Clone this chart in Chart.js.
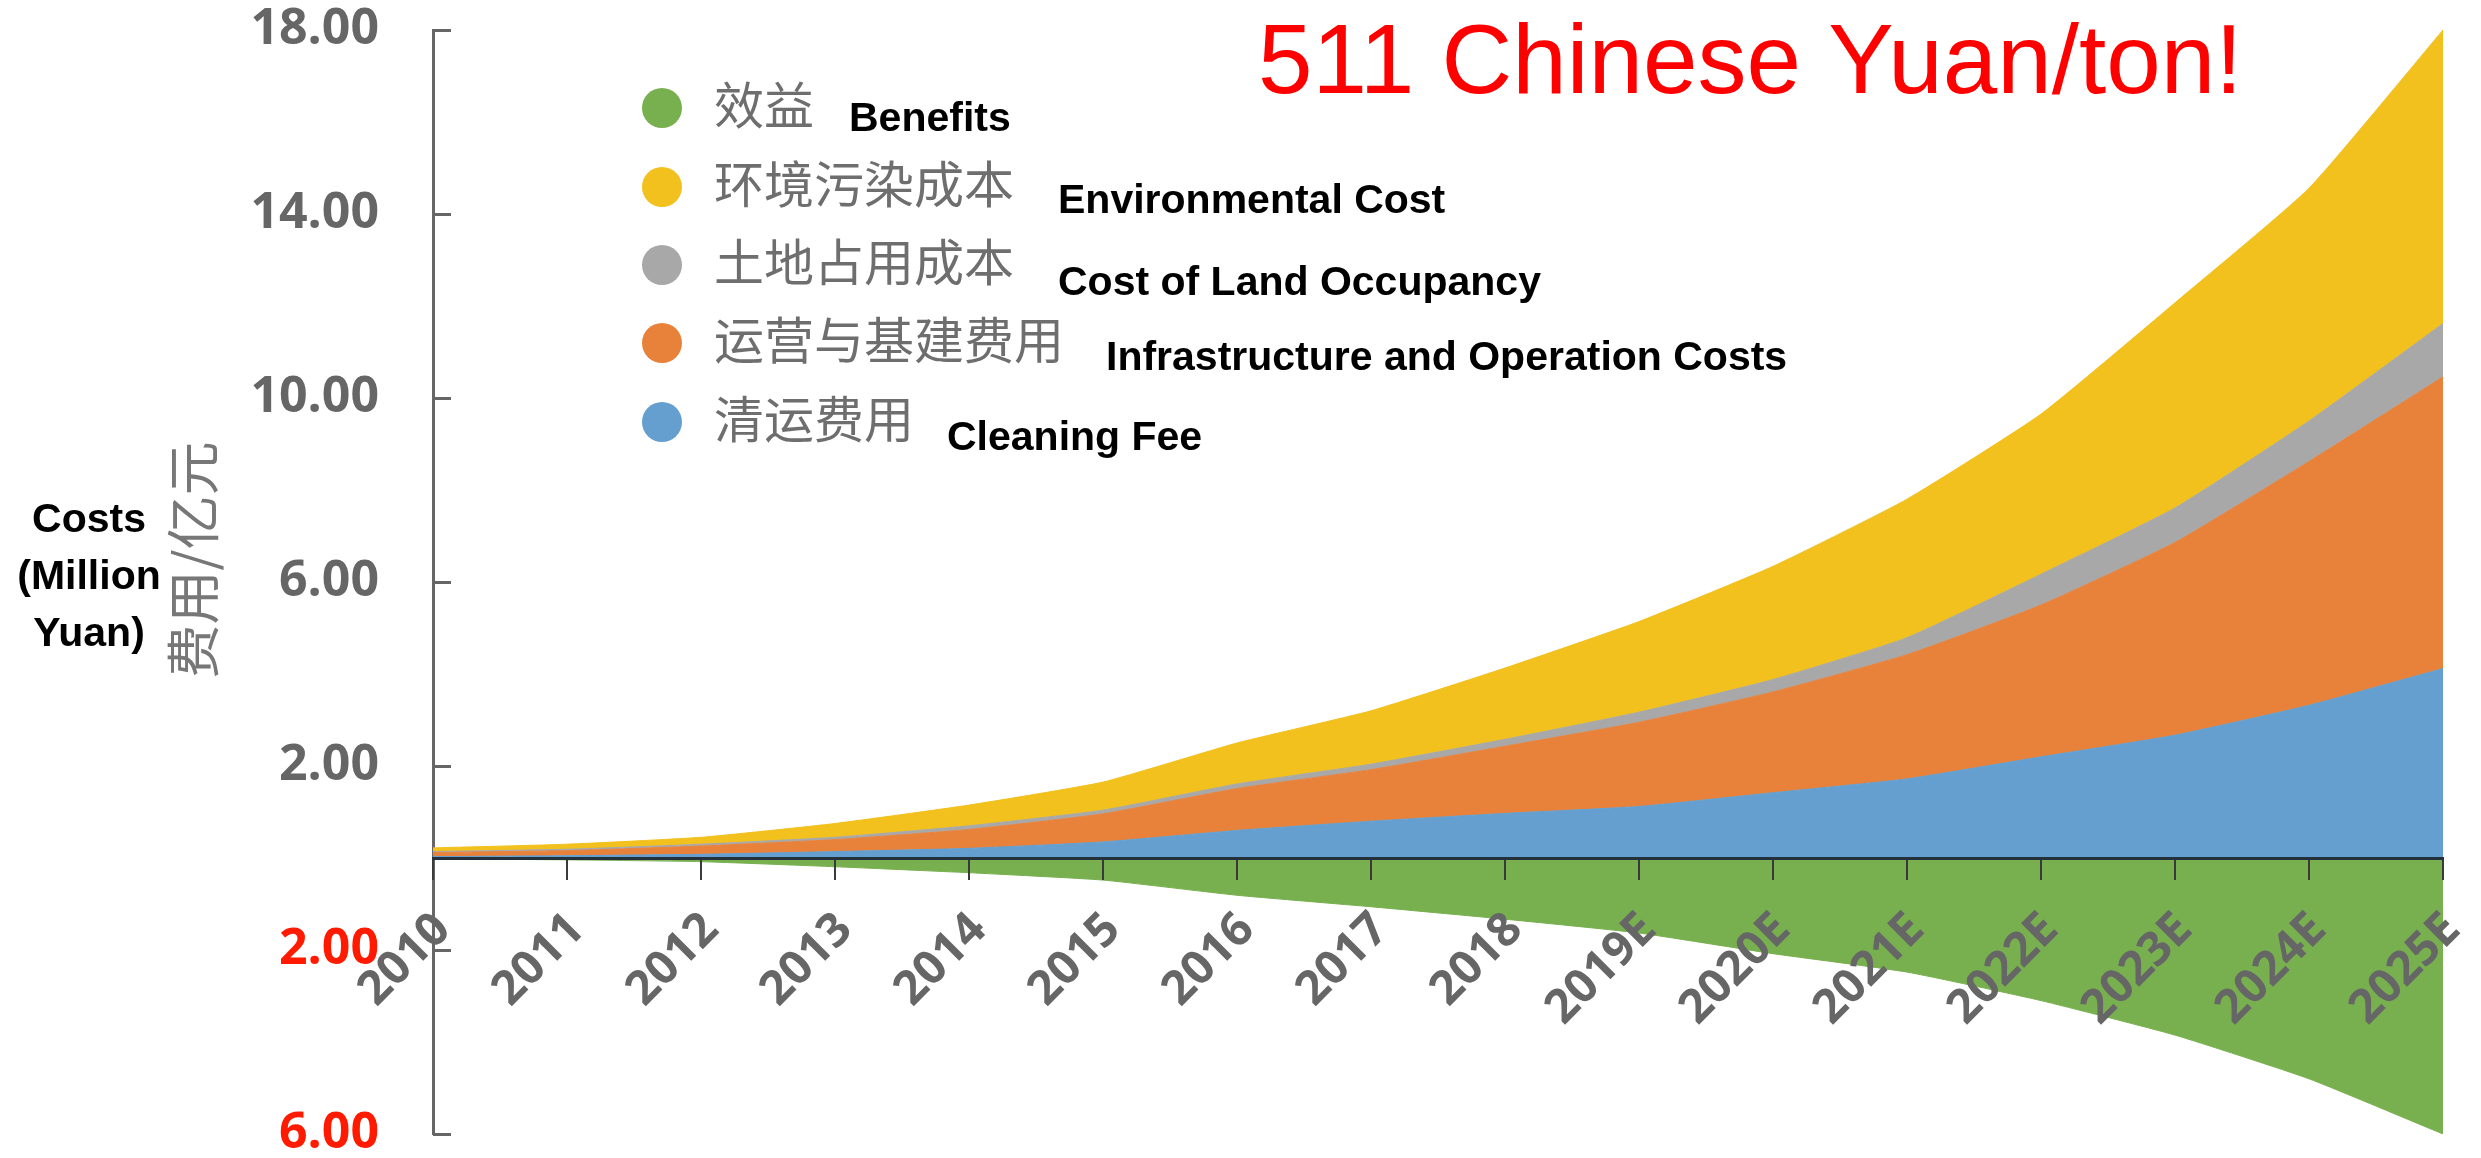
<!DOCTYPE html>
<html>
<head>
<meta charset="utf-8">
<script src="https://cdn.jsdelivr.net/npm/chart.js@4.4.1/dist/chart.umd.min.js"></script>
<style>
html,body{margin:0;padding:0;background:#ffffff;overflow:hidden}
#wrap{position:relative;width:2481px;height:1158px}
</style>
</head>
<body>
<div id="wrap"><canvas id="c" width="2481" height="1158"></canvas></div>
<script>
// ---- data ----
const categories = ['2010','2011','2012','2013','2014','2015','2016','2017','2018',
                    '2019E','2020E','2021E','2022E','2023E','2024E','2025E'];
const benefits    = [-0.02,-0.04,-0.08,-0.19,-0.32,-0.48,-0.81,-1.06,-1.33,-1.63,-2.08,-2.48,-3.10,-3.85,-4.80,-6.00];
const cleaningFee = [0.03,0.05,0.08,0.14,0.21,0.35,0.60,0.80,0.97,1.12,1.42,1.72,2.20,2.67,3.32,4.12];
const infraOps    = [0.09,0.11,0.18,0.26,0.41,0.61,0.91,1.12,1.46,1.83,2.19,2.70,3.30,4.19,5.30,6.34];
const landCost    = [0.02,0.03,0.04,0.05,0.08,0.08,0.10,0.12,0.15,0.22,0.27,0.37,0.67,0.75,0.88,1.16];
const envCost     = [0.08,0.11,0.15,0.30,0.45,0.61,0.89,1.16,1.55,1.97,2.46,3.01,3.48,4.46,5.06,6.38];
const yTickValues = [-6,-2,2,6,10,14,18];

const seriesNamesZh = ['效益','环境污染成本','土地占用成本','运营与基建费用','清运费用'];
const seriesNamesEn = ['Benefits','Environmental Cost','Cost of Land Occupancy','Infrastructure and Operation Costs','Cleaning Fee'];
const titleText = '511 Chinese Yuan/ton!';
const yTitleZh = '费用/亿元';
const yTitleEn = ['Costs','(Million','Yuan)'];

const COLORS = {
  green:'#78B04F', yellow:'#F2C11E', gray:'#A8A8A8', orange:'#E8823B', blue:'#649FCF'
};

function ds(label, data, color, fill){
  return {label, data, backgroundColor: color, borderColor: color, borderWidth: 1,
          fill, pointRadius: 0, tension: 0.15};
}

const annotations = {
  id: 'annotations',
  afterDraw(chart){
    const ctx = chart.ctx;
    const yScale = chart.scales.y;
    const area = chart.chartArea;
    ctx.save();
    // inward tick marks on the y axis
    ctx.strokeStyle = '#666';
    ctx.lineWidth = 3;
    yScale.ticks.forEach(t => {
      const py = Math.round(yScale.getPixelForValue(t.value)) + 0.5;
      ctx.beginPath(); ctx.moveTo(area.left, py); ctx.lineTo(area.left + 18, py); ctx.stroke();
    });

    // legend (dots + Chinese names) and English notes
    const legendColors = [COLORS.green, COLORS.yellow, COLORS.gray, COLORS.orange, COLORS.blue];
    const rowY = [108, 187, 265, 343, 422];
    const enX = [849, 1058, 1058, 1106, 947];
    const enBase = [131, 213, 295, 370, 450];
    for (let i = 0; i < 5; i++){
      ctx.fillStyle = legendColors[i];
      ctx.beginPath(); ctx.ellipse(662, rowY[i], 20, 20, 0, 0, Math.PI*2); ctx.fill();
      ctx.fillStyle = '#6e6e6e';
      ctx.font = '50px "Noto Sans CJK SC"';
      ctx.textAlign = 'left'; ctx.textBaseline = 'middle';
      ctx.fillText(seriesNamesZh[i], 714, rowY[i] - 3);
      ctx.fillStyle = '#000';
      ctx.font = 'bold 41px "Liberation Sans"';
      ctx.textBaseline = 'alphabetic';
      ctx.fillText(seriesNamesEn[i], enX[i], enBase[i]);
    }

    // red title
    ctx.fillStyle = '#FF0000';
    ctx.font = '98px "Liberation Sans"';
    ctx.textAlign = 'left'; ctx.textBaseline = 'alphabetic';
    ctx.fillText(titleText, 1258, 93);

    // y-axis Chinese title (rotated)
    ctx.save();
    ctx.translate(193, 560);
    ctx.rotate(-Math.PI/2);
    ctx.fillStyle = '#777';
    ctx.font = '54px "Noto Sans CJK SC"';
    ctx.textAlign = 'center'; ctx.textBaseline = 'middle';
    ctx.fillText(yTitleZh, 0, 0);
    ctx.restore();

    // English y-axis note
    ctx.fillStyle = '#000';
    ctx.font = 'bold 41px "Liberation Sans"';
    ctx.textAlign = 'center'; ctx.textBaseline = 'alphabetic';
    const base = [532, 589, 646];
    yTitleEn.forEach((s, i) => ctx.fillText(s, 89, base[i]));
    ctx.restore();
  }
};

const chart = new Chart(document.getElementById('c'), {
  type: 'line',
  data: {
    labels: categories,
    datasets: [
      ds(seriesNamesZh[0], benefits, COLORS.green, 'origin'),
      ds(seriesNamesZh[4], cleaningFee, COLORS.blue, 'origin'),
      ds(seriesNamesZh[3], infraOps, COLORS.orange, '-1'),
      ds(seriesNamesZh[2], landCost, COLORS.gray, '-1'),
      ds(seriesNamesZh[1], envCost, COLORS.yellow, '-1')
    ]
  },
  options: {
    responsive: false,
    animation: false,
    devicePixelRatio: 1,
    layout: { padding: { top: 30, right: 38, bottom: 24, left: 0 } },
    plugins: { legend: { display: false }, tooltip: { enabled: false } },
    scales: {
      x: {
        type: 'category',
        position: { y: 0 },
        offset: false,
        afterFit: s => { s.height = 0; s.paddingLeft = 0; s.paddingRight = 0; },
        grid: { display: true, z: 1, drawOnChartArea: false, drawTicks: true, tickLength: 20, color: '#3a3a3a', lineWidth: 2 },
        border: { display: true, z: 1, color: '#23313d', width: 3 },
        ticks: {
          z: 1,
          autoSkip: false, minRotation: 45, maxRotation: 45, padding: 24, labelOffset: 10,
          color: '#666', font: { family: '"Open Sans"', size: 47, weight: 'bold' }
        }
      },
      y: {
        stacked: true,
        min: -6, max: 18,
        afterFit: s => { s.width = 433; s.paddingTop = 0; s.paddingBottom = 0; },
        afterBuildTicks: s => { s.ticks = yTickValues.map(v => ({ value: v })); },
        grid: { display: false, drawTicks: false },
        border: { display: true, color: '#666', width: 3 },
        ticks: {
          padding: 54,
          color: c => (c.tick && c.tick.value < 0) ? '#FF1A00' : '#666',
          font: { family: '"Open Sans"', size: 50, weight: 'bold' },
          callback: v => Math.abs(v).toFixed(2)
        }
      }
    }
  },
  plugins: [annotations]
});

// make sure the plot area sits where the reference has it
const target = { left: 433, top: 30, right: 2443, bottom: 1134 };
for (let k = 0; k < 3; k++) {
  const a = chart.chartArea;
  const p = chart.options.layout.padding;
  const dT = target.top - a.top, dB = a.bottom - target.bottom, dR = a.right - target.right;
  if (Math.abs(dT) < 0.5 && Math.abs(dB) < 0.5 && Math.abs(dR) < 0.5) break;
  p.top += dT; p.bottom += dB; p.right += dR;
  chart.update();
}
</script>
</body>
</html>
